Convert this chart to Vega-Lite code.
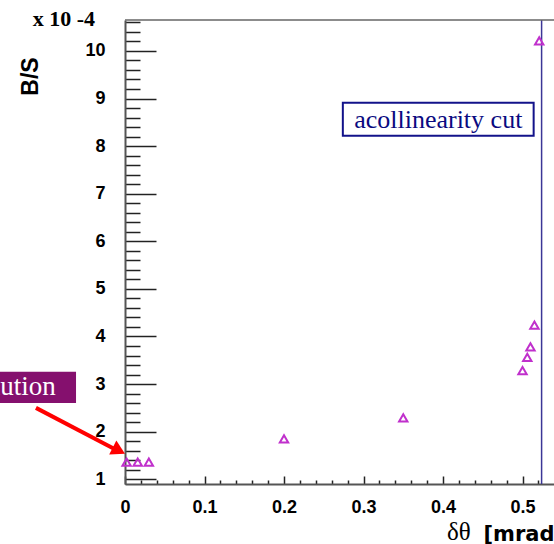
{
  "$schema": "https://vega.github.io/schema/vega-lite/v6.json",
  "width": 429,
  "height": 464,
  "autosize": {"type": "none"},
  "padding": {"left": 125, "top": 20, "right": 0, "bottom": 60},
  "background": "white",
  "config": {"view": {"stroke": null}, "axis": {"grid": false}},
  "datasets": {
    "points": [
      {"dtheta": 0.002, "bs": 1.36},
      {"dtheta": 0.016, "bs": 1.36},
      {"dtheta": 0.030, "bs": 1.36},
      {"dtheta": 0.2, "bs": 1.85},
      {"dtheta": 0.35, "bs": 2.29},
      {"dtheta": 0.5, "bs": 3.28},
      {"dtheta": 0.506, "bs": 3.56},
      {"dtheta": 0.51, "bs": 3.78},
      {"dtheta": 0.515, "bs": 4.24},
      {"dtheta": 0.521, "bs": 10.21}
    ],
    "arrow": [
      {"ax": -0.112, "ay": 2.5},
      {"ax": -0.009, "ay": 1.6}
    ]
  },
  "resolve": {"axis": {"x": "independent", "y": "independent"}},
  "layer": [
    {
      "data": {"values": [{}]},
      "mark": {"type": "rule", "color": "#3b3696", "strokeWidth": 1.5, "clip": false},
      "encoding": {
        "x": {"datum": 0.524, "type": "quantitative", "scale": {"domain": [0, 0.5396], "nice": false, "zero": false}, "axis": null}
      }
    },
    {
      "data": {"values": [{}]},
      "mark": {"type": "rule", "color": "#666666", "strokeWidth": 1.5, "clip": false},
      "encoding": {
        "y": {"datum": 10.65, "type": "quantitative", "scale": {"domain": [0.9, 10.65], "nice": false, "zero": false}, "axis": null}
      }
    },
    {
      "data": {"values": [{}]},
      "mark": {"type": "rect", "fill": "white", "stroke": "#12128a", "strokeWidth": 2, "clip": false},
      "encoding": {
        "x": {"datum": 0.274, "type": "quantitative", "scale": {"domain": [0, 0.5396], "nice": false, "zero": false}, "axis": null},
        "x2": {"datum": 0.514},
        "y": {"datum": 8.22, "type": "quantitative", "scale": {"domain": [0.9, 10.65], "nice": false, "zero": false}, "axis": null},
        "y2": {"datum": 8.91}
      }
    },
    {
      "data": {"values": [{}]},
      "mark": {"type": "rect", "fill": "#85106e", "clip": false},
      "encoding": {
        "x": {"datum": -0.4, "type": "quantitative", "scale": {"domain": [0, 0.5396], "nice": false, "zero": false}, "axis": null},
        "x2": {"datum": -0.0616},
        "y": {"datum": 2.6, "type": "quantitative", "scale": {"domain": [0.9, 10.65], "nice": false, "zero": false}, "axis": null},
        "y2": {"datum": 3.26}
      }
    },
    {
      "data": {"values": [{}]},
      "mark": {"type": "text", "text": "acollinearity cut", "font": "Liberation Serif", "fontSize": 26, "color": "#0a0a80", "align": "center", "baseline": "middle", "dy": 1, "clip": false},
      "encoding": {
        "x": {"datum": 0.394, "type": "quantitative", "scale": {"domain": [0, 0.5396], "nice": false, "zero": false}, "axis": null},
        "y": {"datum": 8.565, "type": "quantitative", "scale": {"domain": [0.9, 10.65], "nice": false, "zero": false}, "axis": null}
      }
    },
    {
      "data": {"values": [{}]},
      "mark": {"type": "text", "text": "resolution", "font": "Liberation Serif", "fontSize": 27, "color": "white", "align": "right", "baseline": "alphabetic", "clip": false},
      "encoding": {
        "x": {"datum": -0.087, "type": "quantitative", "scale": {"domain": [0, 0.5396], "nice": false, "zero": false}, "axis": null},
        "y": {"datum": 2.76, "type": "quantitative", "scale": {"domain": [0.9, 10.65], "nice": false, "zero": false}, "axis": null}
      }
    },
    {
      "data": {"values": [{}]},
      "mark": {"type": "text", "text": "x 10 -4", "font": "Liberation Serif", "fontWeight": "bold", "fontSize": 22, "color": "black", "align": "left", "baseline": "alphabetic", "clip": false},
      "encoding": {
        "x": {"datum": -0.116, "type": "quantitative", "scale": {"domain": [0, 0.5396], "nice": false, "zero": false}, "axis": null},
        "y": {"datum": 10.53, "type": "quantitative", "scale": {"domain": [0.9, 10.65], "nice": false, "zero": false}, "axis": null}
      }
    },
    {
      "data": {"values": [{}]},
      "mark": {"type": "text", "text": "δθ", "font": "Liberation Serif", "fontSize": 25, "color": "black", "align": "left", "baseline": "alphabetic", "clip": false},
      "encoding": {
        "x": {"datum": 0.405, "type": "quantitative", "scale": {"domain": [0, 0.5396], "nice": false, "zero": false}, "axis": null},
        "y": {"datum": -0.28, "type": "quantitative", "scale": {"domain": [0.9, 10.65], "nice": false, "zero": false}, "axis": null}
      }
    },
    {
      "data": {"name": "arrow"},
      "mark": {"type": "line", "color": "#ff0000", "strokeWidth": 4, "clip": false},
      "encoding": {
        "x": {"field": "ax", "type": "quantitative", "scale": {"domain": [0, 0.5396], "nice": false, "zero": false},
          "axis": {"orient": "bottom", "values": [0.02,0.04,0.06,0.08,0.12,0.14,0.16,0.18,0.22,0.24,0.26,0.28,0.32,0.34,0.36,0.38,0.42,0.44,0.46,0.48,0.52], "labels": false, "domain": false, "tickSize": -4, "tickColor": "#222222", "tickWidth": 1.5, "title": null}},
        "y": {"field": "ay", "type": "quantitative", "scale": {"domain": [0.9, 10.65], "nice": false, "zero": false},
          "axis": {"orient": "left", "values": [1.2,1.4,1.6,1.8,2.2,2.4,2.6,2.8,3.2,3.4,3.6,3.8,4.2,4.4,4.6,4.8,5.2,5.4,5.6,5.8,6.2,6.4,6.6,6.8,7.2,7.4,7.6,7.8,8.2,8.4,8.6,8.8,9.2,9.4,9.6,9.8,10.2,10.4,10.6], "labels": false, "domain": false, "tickSize": -15, "tickColor": "#222222", "tickWidth": 1.5, "title": null}}
      }
    },
    {
      "data": {"values": [{}]},
      "mark": {"type": "point", "shape": "triangle-right", "filled": true, "color": "#ff0000", "size": 250, "angle": 27, "opacity": 1, "clip": false},
      "encoding": {
        "x": {"datum": -0.0077, "type": "quantitative", "scale": {"domain": [0, 0.5396], "nice": false, "zero": false}, "axis": null},
        "y": {"datum": 1.6, "type": "quantitative", "scale": {"domain": [0.9, 10.65], "nice": false, "zero": false}, "axis": null}
      }
    },
    {
      "data": {"name": "points"},
      "mark": {"type": "point", "shape": "triangle-up", "filled": false, "color": "#c030cc", "strokeWidth": 2, "size": 70, "opacity": 1, "clip": false},
      "encoding": {
        "x": {"field": "dtheta", "type": "quantitative", "scale": {"domain": [0, 0.5396], "nice": false, "zero": false},
          "axis": {"orient": "bottom", "values": [0, 0.1, 0.2, 0.3, 0.4, 0.5], "format": "~g", "tickSize": -8, "tickColor": "#222222", "tickWidth": 1.5, "domainColor": "#555555", "domainWidth": 2, "labelFont": "Liberation Sans", "labelFontWeight": "bold", "labelFontSize": 18, "labelColor": "black", "labelPadding": 22, "labelFlush": false, "labelBaseline": "top",
            "title": "[mrad]", "titleFont": "DejaVu Sans", "titleFontWeight": "bold", "titleFontSize": 21, "titleColor": "black", "titleAnchor": null, "titleAlign": "left", "titleBaseline": "alphabetic", "titleX": 358, "titleY": 56}},
        "y": {"field": "bs", "type": "quantitative", "scale": {"domain": [0.9, 10.65], "nice": false, "zero": false},
          "axis": {"orient": "left", "values": [1,2,3,4,5,6,7,8,9,10], "format": "d", "tickSize": -31, "tickColor": "#222222", "tickWidth": 1.5, "domainColor": "#555555", "domainWidth": 2, "labelFont": "Liberation Sans", "labelFontWeight": "bold", "labelFontSize": 18, "labelColor": "black", "labelPadding": 51, "labelFlush": false,
            "title": "B/S", "titleFont": "Liberation Sans", "titleFontWeight": "bold", "titleFontSize": 23, "titleColor": "black", "titleAngle": 270, "titleAnchor": null, "titleAlign": "center", "titleBaseline": "middle", "titleX": -95, "titleY": 56}}
      }
    }
  ]
}
